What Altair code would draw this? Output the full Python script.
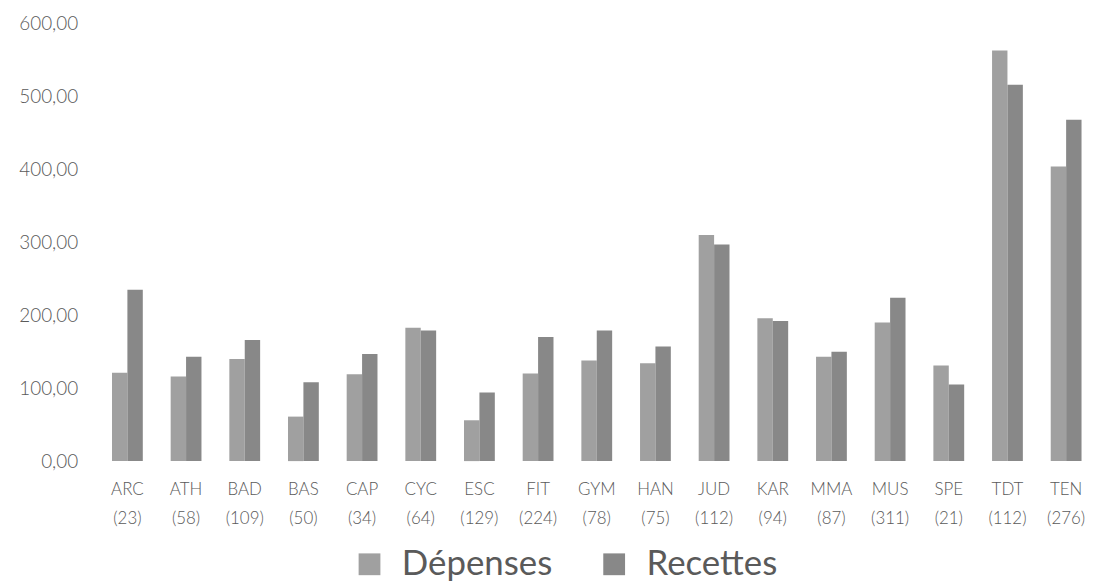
import altair as alt
import pandas as pd

cats = ["ARC", "ATH", "BAD", "BAS", "CAP", "CYC", "ESC", "FIT", "GYM", "HAN",
        "JUD", "KAR", "MMA", "MUS", "SPE", "TDT", "TEN"]
counts = [23, 58, 109, 50, 34, 64, 129, 224, 78, 75, 112, 94, 87, 311, 21, 112, 276]
depenses = [121, 116, 140, 61, 119, 183, 56, 120, 138, 134, 310, 196, 143, 190, 131, 563, 404]
recettes = [235, 143, 166, 108, 147, 179, 94, 170, 179, 157, 297, 192, 150, 224, 105, 516, 468]
series = ["Dépenses", "Recettes"]
colors = ["#a0a0a0", "#888888"]
yticks = [0, 100, 200, 300, 400, 500, 600]

labels = [f"{c} ({n})" for c, n in zip(cats, counts)]
rows = []
for lab, d, r in zip(labels, depenses, recettes):
    rows.append({"cat": lab, "serie": series[0], "val": d})
    rows.append({"cat": lab, "serie": series[1], "val": r})
df = pd.DataFrame(rows)

FONT = "Lato"
TXT = "#5a5a5a"

chart = alt.Chart(df).mark_bar().encode(
    x=alt.X("cat:N", sort=labels, title=None,
            scale=alt.Scale(paddingInner=0.475, paddingOuter=0.23),
            axis=alt.Axis(labelAngle=0, domain=False, ticks=False,
                          labelExpr="split(datum.label, ' ')",
                          labelFontSize=17, labelColor=TXT, labelFont=FONT,
                          labelFontWeight=300,
                          labelPadding=21, labelLineHeight=29)),
    xOffset=alt.XOffset("serie:N", sort=series, scale=alt.Scale(paddingInner=0, paddingOuter=0)),
    y=alt.Y("val:Q", title=None,
            scale=alt.Scale(domain=[0, 600], nice=False),
            axis=alt.Axis(values=yticks, grid=False, domain=False, ticks=False,
                          labelExpr="replace(format(datum.value, '.2f'), '.', ',')",
                          labelFontSize=19, labelColor=TXT, labelFont=FONT,
                          labelFontWeight=300,
                          labelPadding=21)),
    color=alt.Color("serie:N", sort=series,
                    scale=alt.Scale(domain=series, range=colors),
                    legend=alt.Legend(title=None, orient="none", direction="horizontal",
                                      legendX=255, legendY=526,
                                      symbolType="square", symbolSize=480,
                                      symbolStrokeWidth=0,
                                      labelFontSize=35, labelColor=TXT, labelFont=FONT,
                                      labelOffset=15, columnPadding=44)),
).properties(
    width=1002, height=440,
    autosize=alt.AutoSizeParams(type="none"),
    padding={"left": 91, "top": 14, "right": 4, "bottom": 126},
).configure_view(stroke=None)

chart.save("out.html", embed_options={"renderer": "svg", "actions": False})
